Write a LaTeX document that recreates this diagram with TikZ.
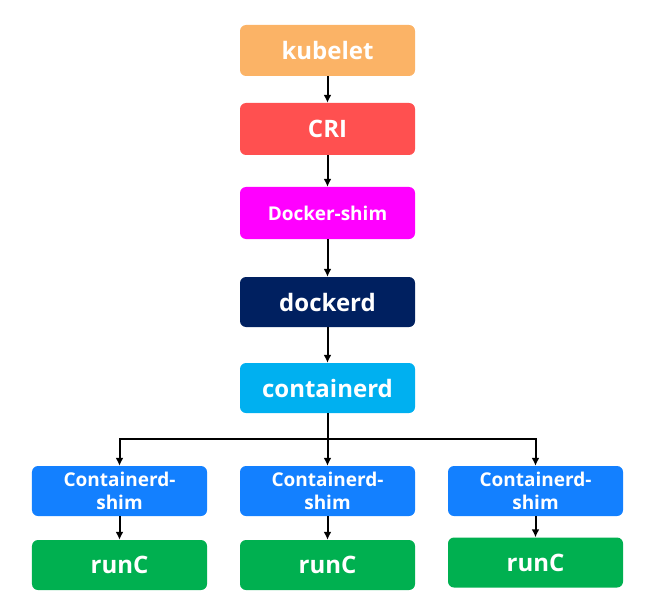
\documentclass[tikz,border=0pt]{standalone}
\usepackage{fontspec}
\setmainfont{Open Sans}
\usetikzlibrary{arrows.meta}
\definecolor{ckube}{HTML}{FBB366}
\definecolor{ccri}{HTML}{FF5050}
\definecolor{cdshim}{HTML}{FF00FF}
\definecolor{cdockerd}{HTML}{002060}
\definecolor{ccontainerd}{HTML}{00B0F0}
\definecolor{cshim}{HTML}{1380FF}
\definecolor{crunc}{HTML}{00B050}
\tikzset{
  box/.style={rounded corners=6bp, inner sep=0pt, minimum width=175bp, minimum height=50bp,
    text=white, font=\bfseries\fontsize{24bp}{26bp}\selectfont, align=center},
  smallbox/.style={box, font=\bfseries\fontsize{19bp}{23bp}\selectfont},
  conn/.style={line width=2bp, draw=black},
  arr/.style={conn, -{Latex[length=8bp,width=8bp]}}
}
\begin{document}
\begin{tikzpicture}[x=1bp,y=-1bp]
\useasboundingbox (0,0) rectangle (648,607);
\node[box, fill=ckube, minimum height=51bp] (kubelet) at (327.5,50.5) {kubelet};
\node[box, fill=ccri, minimum height=52bp] (cri) at (327.5,129) {CRI};
\node[smallbox, fill=cdshim, minimum height=52bp] (dshim) at (327.5,213) {Docker-shim};
\node[box, fill=cdockerd] (dockerd) at (327.5,302) {dockerd};
\node[box, fill=ccontainerd] (containerd) at (327.5,388) {containerd};
\node[smallbox, fill=cshim] (shima) at (119.5,491) {Containerd-\\shim};
\node[smallbox, fill=cshim] (shimb) at (327.5,491) {Containerd-\\shim};
\node[smallbox, fill=cshim] (shimc) at (535.5,491) {Containerd-\\shim};
\node[box, fill=crunc] (runa) at (119.5,565) {runC};
\node[box, fill=crunc] (runb) at (327.5,565) {runC};
\node[box, fill=crunc] (runc) at (535.5,562.5) {runC};
\draw[arr] (kubelet) -- (cri);
\draw[arr] (cri) -- (dshim);
\draw[arr] (dshim) -- (dockerd);
\draw[arr] (dockerd) -- (containerd);
\coordinate (fork) at (327.5,439);
\draw[conn] (containerd.south) -- (fork);
\draw[arr] (fork) -| (shima.north);
\draw[arr] (fork) -| (shimc.north);
\draw[arr] (fork) -- (shimb.north);
\draw[arr] (shima) -- (runa);
\draw[arr] (shimb) -- (runb);
\draw[arr] (shimc) -- (runc);
\end{tikzpicture}
\end{document}
